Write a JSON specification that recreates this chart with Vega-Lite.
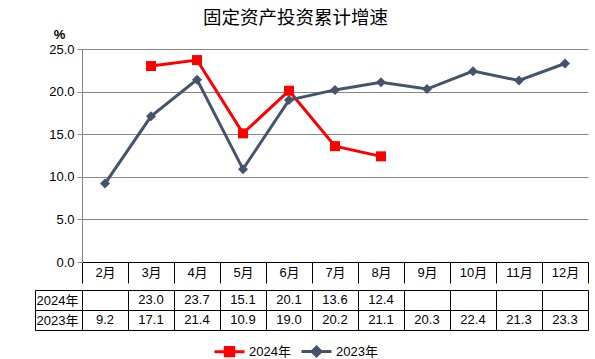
{
  "$schema": "https://vega.github.io/schema/vega-lite/v6.json",
  "padding": {"left": 34, "top": 8, "right": 5, "bottom": 5},
  "title": {"text": "固定资产投资累计增速", "fontSize": 18.5, "font": "Noto Sans CJK SC", "fontWeight": "normal", "anchor": "middle", "dx": -16, "offset": 1, "color": "#000000"},
  "datasets": {
    "d": [
      {"month": "3月", "series": "2024年", "value": 23.0},
      {"month": "4月", "series": "2024年", "value": 23.7},
      {"month": "5月", "series": "2024年", "value": 15.1},
      {"month": "6月", "series": "2024年", "value": 20.1},
      {"month": "7月", "series": "2024年", "value": 13.6},
      {"month": "8月", "series": "2024年", "value": 12.4},
      {"month": "2月", "series": "2023年", "value": 9.2},
      {"month": "3月", "series": "2023年", "value": 17.1},
      {"month": "4月", "series": "2023年", "value": 21.4},
      {"month": "5月", "series": "2023年", "value": 10.9},
      {"month": "6月", "series": "2023年", "value": 19.0},
      {"month": "7月", "series": "2023年", "value": 20.2},
      {"month": "8月", "series": "2023年", "value": 21.1},
      {"month": "9月", "series": "2023年", "value": 20.3},
      {"month": "10月", "series": "2023年", "value": 22.4},
      {"month": "11月", "series": "2023年", "value": 21.3},
      {"month": "12月", "series": "2023年", "value": 23.3}
    ]
  },
  "data": {"name": "d"},
  "config": {
    "view": {"stroke": null},
    "font": "Liberation Sans, Noto Sans CJK SC",
    "axis": {"labelFont": "Liberation Sans, Noto Sans CJK SC", "labelFontSize": 13, "labelColor": "#000000"},
    "legend": {"labelFont": "Liberation Sans, Noto Sans CJK SC"}
  },
  "spacing": 0,
  "vconcat": [
    {
      "width": 506,
      "height": 213,
      "encoding": {
        "x": {"field": "month", "type": "ordinal", "sort": ["2月","3月","4月","5月","6月","7月","8月","9月","10月","11月","12月"],
          "scale": {"type": "band", "domain": ["2月","3月","4月","5月","6月","7月","8月","9月","10月","11月","12月"], "paddingInner": 0, "paddingOuter": 0},
          "axis": {"orient": "bottom", "title": null, "labelAngle": 0, "tickBand": "extent", "tickSize": 21, "tickColor": "#000000", "domainColor": "#000000", "labelPadding": -10.5, "labelBaseline": "middle", "grid": false}},
        "y": {"field": "value", "type": "quantitative",
          "scale": {"domain": [0, 25], "nice": false, "zero": true},
          "axis": {"title": "%", "titleAngle": 0, "titleX": -23, "titleY": -15, "titleAlign": "center", "titleBaseline": "middle", "titleFontSize": 13, "titleFontWeight": "bold", "titleColor": "#000000", "titleFont": "Liberation Sans", "values": [0, 5, 10, 15, 20, 25], "format": ".1f", "grid": true, "gridColor": "#868686", "domainColor": "#868686", "tickColor": "#868686", "tickSize": 5, "labelPadding": 3}},
        "color": {"field": "series", "type": "nominal",
          "scale": {"domain": ["2024年", "2023年"], "range": ["#ff0000", "#44546a"]},
          "legend": {"orient": "none", "legendX": 131, "legendY": 286, "direction": "horizontal", "title": null, "labelFontSize": 13, "labelColor": "#000000", "symbolSize": 900, "columnPadding": 4, "labelOffset": 3,
            "encode": {"symbols": {"update": {
              "shape": {"signal": "datum.value === '2024年' ? 'M-1,0H1M-0.28,-0.28H0.28V0.28H-0.28Z' : 'M-1,0H1M0,-0.3L0.3,0L0,0.3L-0.3,0Z'"},
              "fill": {"signal": "datum.value === '2024年' ? '#ff0000' : '#44546a'"},
              "stroke": {"signal": "datum.value === '2024年' ? '#ff0000' : '#44546a'"},
              "strokeWidth": {"value": 3},
              "opacity": {"value": 1}}}}}}
      },
      "layer": [
        {"mark": {"type": "line", "strokeWidth": 3}},
        {"transform": [{"filter": "datum.series === '2023年'"}],
          "mark": {"type": "point", "filled": true, "opacity": 1, "size": 100, "shape": "diamond"}},
        {"transform": [{"filter": "datum.series === '2024年'"}],
          "mark": {"type": "point", "filled": true, "opacity": 1, "size": 100, "shape": "square"}}
      ]
    },
    {
      "width": 506,
      "height": 40,
      "layer": [
        {
          "mark": {"type": "text", "fontSize": 13, "color": "#000000", "font": "Liberation Sans"},
          "encoding": {
            "x": {"field": "month", "type": "ordinal",
              "scale": {"type": "band", "domain": ["2月","3月","4月","5月","6月","7月","8月","9月","10月","11月","12月"], "paddingInner": 0, "paddingOuter": 0},
              "axis": {"labels": false, "ticks": false, "domain": false, "grid": true, "tickBand": "extent", "gridColor": "#000000", "gridOpacity": 1, "title": null}},
            "y": {"field": "series", "type": "ordinal",
              "scale": {"type": "band", "domain": ["2024年", "2023年"], "paddingInner": 0, "paddingOuter": 0},
              "axis": {"title": null, "grid": true, "gridColor": "#000000", "gridOpacity": 1, "tickBand": "extent", "ticks": true, "tickSize": 47, "tickColor": "#000000", "domain": true, "domainColor": "#000000", "labelAlign": "left", "labelPadding": -1, "labelBaseline": "middle"}},
            "text": {"field": "value", "type": "quantitative", "format": ".1f"}
          }
        },
        {
          "mark": {"type": "text", "opacity": 0},
          "encoding": {
            "y": {"field": "series", "type": "ordinal",
              "scale": {"type": "band", "domain": ["2024年", "2023年"], "paddingInner": 0, "paddingOuter": 0},
              "axis": {"orient": "left", "offset": 47, "labels": false, "ticks": false, "grid": false, "domain": true, "domainColor": "#000000", "title": null}},
            "text": {"value": ""}
          }
        }
      ],
      "resolve": {"scale": {"y": "independent"}, "axis": {"y": "independent"}}
    }
  ],
  "resolve": {"scale": {"color": "shared"}, "legend": {"color": "shared"}}
}
